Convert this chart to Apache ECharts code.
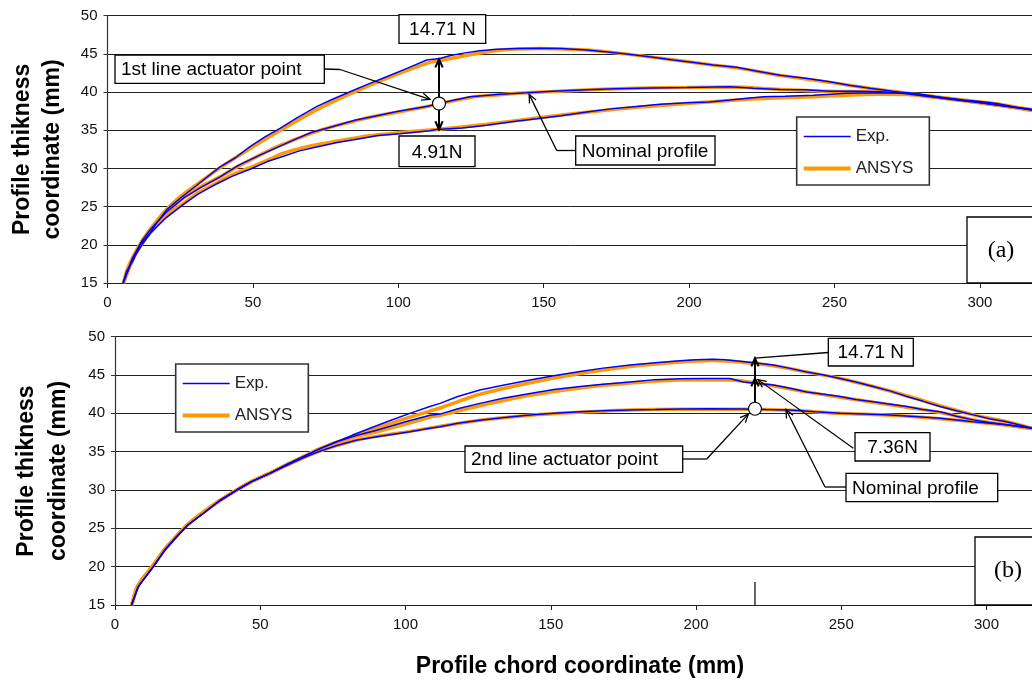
<!DOCTYPE html>
<html>
<head>
<meta charset="utf-8">
<script src="https://cdn.jsdelivr.net/npm/echarts@6/dist/echarts.min.js"></script>
<style>html,body{margin:0;padding:0;background:#fff}#c{width:1032px;height:680px}</style>
</head>
<body>
<div id="c"></div>
<script>
// ---------- DATA (chord x [mm], thickness y [mm]) ----------
// Panel (a): 1st line actuator
const aNominalAnsys = [[5.5,15],[9,18.4],[12,20.4],[15,22.0],[20,24.0],[26,26.1],[32,27.6],[38.7,28.9],[45,30.3],[52.4,31.75],[58,32.8],[63.9,33.7],[70,34.6],[77.6,35.5],[85,36.2],[91.4,36.8],[100,37.4],[109.8,38.1],[113.8,38.45],[124.7,39.3],[135,39.65],[144.2,39.9],[162.5,40.25],[182,40.5],[199.2,40.6],[214,40.65],[231.3,40.35],[248.4,40.1],[265.7,40.0],[282.8,39.4],[300,38.6],[318,37.7]];
const aNominalExp = [[5.4,15],[8.5,18.2],[12,20.6],[15,22.1],[20,24.2],[26.1,26.1],[32,27.5],[38.7,28.9],[45,30.4],[52.4,31.75],[58,32.7],[63.9,33.7],[70,34.7],[77.6,35.5],[85,36.3],[91.4,36.8],[100,37.5],[109.8,38.1],[113.8,38.5],[124.7,39.4],[135,39.7],[144.2,39.9],[153,40.1],[162.5,40.27],[172,40.4],[182,40.5],[199.2,40.6],[214,40.7],[222,40.5],[231.3,40.35],[240,40.3],[248.4,40.1],[257,40.1],[265.7,40.05],[274,39.8],[282.8,39.4],[291,39.0],[300,38.6],[308,38.2],[318,37.75]];
const a1471Ansys = [[5.5,15],[7,17],[9,18.6],[12,20.6],[15,22.2],[20,24.5],[25,26.3],[30,27.7],[38,29.9],[49,32.6],[59,34.9],[72,37.7],[83,39.7],[96,41.8],[110,43.8],[114,44.1],[122,44.7],[134,45.45],[149,45.7],[165,45.5],[178,45.0],[195,44.2],[208,43.55],[216,43.2],[231,42.2],[248,41.3],[262,40.5],[276,39.8],[294,38.95],[306,38.45],[318,37.6]];
const a1471Exp = [[5.4,15],[6.5,16.5],[8.9,18.0],[11,19.9],[14.6,21.5],[17,22.9],[20.4,24.6],[25,26.1],[30.7,27.8],[38.7,30.2],[44,31.4],[49,32.85],[54,34.1],[59.3,35.25],[65,36.6],[71.9,38.1],[77,39.0],[83.4,40.05],[90,41.1],[96,42.0],[103,43.1],[109.8,44.2],[114.3,44.4],[118,44.8],[122.4,45.1],[128,45.4],[133.8,45.6],[141,45.7],[148.7,45.75],[156,45.7],[164.8,45.5],[172,45.25],[178.5,45.0],[187,44.6],[194.6,44.2],[201,43.9],[208.3,43.55],[216.4,43.25],[223,42.75],[231.3,42.2],[240,41.8],[248.4,41.35],[255,40.9],[262.2,40.5],[270,40.1],[276,39.85],[285,39.4],[294.3,38.96],[300,38.75],[305.8,38.5],[312,38.05],[318,37.65]];
const a491Ansys = [[5.5,15],[9,18.3],[12,20.2],[15,21.8],[20,23.7],[26.1,25.4],[31,26.8],[37.6,28.1],[43,29.2],[49,30.1],[55,31.1],[60.5,32.0],[66,32.6],[71.9,33.1],[79,33.6],[86.8,34.1],[93,34.4],[100.6,34.7],[110.9,35.05],[113.2,35.1],[130.4,35.8],[147.6,36.6],[164.8,37.35],[182,38.0],[199.2,38.5],[216.4,38.95],[225.5,39.15],[242.7,39.4],[254.2,39.6],[265.7,39.7],[277.1,39.65],[288.6,39.2],[305.8,38.3],[318,37.6]];
const a491Exp = [[5.4,15],[8.5,18.0],[12,20.1],[15,21.6],[20,23.5],[26.1,25.3],[31,26.6],[37.6,28.0],[43,29.0],[49,29.9],[55,30.9],[60.5,31.6],[66,32.3],[71.9,32.8],[79,33.4],[86.8,33.9],[93,34.3],[100.6,34.55],[110.9,34.95],[113.2,35.1],[122,35.3],[130.4,35.65],[139,36.1],[147.6,36.5],[156,36.9],[164.8,37.4],[173,37.8],[182,38.1],[190,38.4],[199.2,38.6],[207,38.7],[214,38.95],[225.5,39.4],[233,39.45],[242.7,39.6],[254.2,39.85],[265.7,39.9],[277.1,39.85],[288.6,39.2],[297,38.8],[305.8,38.3],[318,37.65]];

// Panel (b): 2nd line actuator
const bNominalAnsys = [[5.8,15],[8,17.6],[13.2,20.2],[17,22.2],[21.2,24.0],[25,25.5],[30.4,27.1],[36,28.6],[41.9,30.0],[47,31.1],[53.4,32.2],[59,33.2],[64.8,34.2],[70,35.0],[76.3,35.8],[83,36.5],[90.1,37.0],[101.5,37.65],[111.9,38.3],[125.6,39.1],[142.9,39.75],[160.1,40.15],[177.3,40.45],[194.5,40.55],[216.3,40.55],[232.4,40.4],[249.6,40.0],[266.8,39.75],[284,39.3],[295.5,38.9],[306.9,38.45],[316,38.0]];
const bNominalExp = [[5.7,15],[8,17.4],[13.2,20.0],[17,22.1],[21.2,23.9],[25,25.4],[30.4,26.97],[36,28.6],[41.9,30.0],[47,31.1],[53.4,32.2],[59,33.2],[64.8,34.2],[70,35.0],[76.3,35.8],[83,36.5],[90.1,36.95],[101.5,37.6],[108.4,38.05],[111.9,38.26],[118,38.7],[125.6,39.1],[134,39.45],[142.9,39.8],[151,40.0],[160.1,40.2],[168,40.35],[177.3,40.45],[186,40.5],[194.5,40.57],[205,40.6],[216.3,40.57],[224,40.5],[232.4,40.45],[241,40.2],[249.6,40.0],[258,39.9],[266.8,39.8],[275,39.6],[284,39.35],[295.5,38.9],[306.9,38.5],[316,38.05]];
const b736Ansys = [[5.8,15],[8,17.6],[13.2,20.2],[17,22.2],[21.2,24.0],[25,25.5],[30.4,27.1],[36,28.6],[41.9,30.0],[47,31.1],[53.4,32.2],[59,33.3],[64.8,34.35],[70,35.3],[76.3,36.2],[83,37.0],[90.1,37.6],[100,38.6],[108.4,39.5],[111.9,39.75],[125.6,41.0],[142.9,42.35],[160.1,43.3],[177.3,43.95],[194.5,44.35],[211.7,44.35],[220,44.0],[226.6,43.6],[238.1,42.8],[249.6,42.1],[261,41.45],[272.5,40.8],[284,40.1],[295.5,39.15],[306.9,38.5],[316,38.0]];
const b736Exp = [[5.7,15],[8,17.4],[13.2,20.0],[17,22.1],[21.2,23.9],[25,25.4],[30.4,26.97],[36,28.6],[41.9,30.0],[47,31.1],[53.4,32.2],[59,33.3],[64.8,34.35],[70,35.3],[76.3,36.3],[83,37.1],[90.1,37.8],[100,38.9],[108.4,39.75],[111.9,39.9],[118,40.6],[125.6,41.3],[134,42.0],[142.9,42.6],[151,43.1],[160.1,43.5],[168,43.8],[177.3,44.1],[186,44.4],[194.5,44.5],[203,44.55],[211.7,44.55],[216.3,44.1],[226.6,43.7],[232,43.3],[238.1,42.8],[244,42.5],[249.6,42.2],[255,41.8],[261,41.5],[267,41.2],[272.5,40.9],[278,40.5],[284,40.2],[290,39.6],[295.5,39.15],[301,38.8],[306.9,38.5],[316,38.05]];
const b1471Ansys = [[5.8,15],[8,17.6],[13.2,20.2],[17,22.2],[21.2,24.0],[25,25.5],[30.4,27.1],[36,28.6],[41.9,30.0],[47,31.1],[53.4,32.2],[59,33.3],[64.8,34.35],[70,35.3],[76.3,36.2],[82,37.0],[87.8,37.75],[95,38.7],[101.5,39.5],[108.4,40.3],[111.9,40.7],[125.6,42.5],[142.9,44.0],[160.1,45.2],[177.3,46.1],[194.5,46.7],[206,46.9],[215.1,46.7],[226.6,46.2],[238.1,45.4],[249.6,44.55],[261,43.5],[272.5,42.3],[284,41.0],[295.5,39.8],[306.9,38.9],[316,38.0]];
const b1471Exp = [[5.7,15],[8,17.4],[13.2,20.0],[17,22.1],[21.2,23.9],[25,25.4],[30.4,26.97],[36,28.6],[41.9,30.0],[47,31.1],[53.4,32.2],[59,33.3],[64.8,34.35],[70,35.3],[76.3,36.3],[82,37.2],[87.8,38.05],[95,39.1],[101.5,40.0],[108.4,40.9],[111.9,41.3],[118,42.2],[125.6,43.05],[134,43.7],[142.9,44.35],[151,44.9],[160.1,45.45],[168,45.9],[177.3,46.3],[186,46.6],[194.5,46.87],[200,47.0],[206,47.05],[210,47.0],[215.1,46.8],[220,46.6],[226.6,46.3],[232,45.9],[238.1,45.4],[244,45.0],[249.6,44.55],[255,44.1],[261,43.5],[267,42.9],[272.5,42.2],[278,41.6],[284,40.9],[290,40.3],[295.5,39.8],[301,39.3],[306.9,38.9],[316,38.05]];

// axis ticks
const xTicks = {min: 0, max: 350, interval: 50};
const yTicks = {min: 15, max: 50, interval: 5};
const legendNames = ['Exp.', 'ANSYS'];

// annotation anchors (data coordinates)
const aActuator = [114, 38.5];
const aUpperTip = [114, 44.3];
const aLowerTip = [114, 35.1];
const aActuatorLeaderTip = [110.9, 39.05];
const aNominalTip = [145, 39.7];
const bActuator = [220.3, 40.6];
const bMidTip = [220.3, 44.6];
const bUpperTip = [220.3, 47.2];
const b736Tip = [221.3, 44.4];
const bNominalTip = [231, 40.5];
const bActuatorLeaderTip = [218, 39.9];
const bMarker = [220.3, 18.0];

// ---------- CHART ----------
const FONT = 'Arial, "Liberation Sans", sans-serif';
const chart = echarts.init(document.getElementById('c'), null, {renderer: 'canvas'});

function xAxis(gi) {
  return {
    type: 'value', gridIndex: gi, min: xTicks.min, max: xTicks.max, interval: xTicks.interval,
    axisLine: {show: true, lineStyle: {color: '#222', width: 1}},
    axisTick: {show: true, inside: false, length: 5, lineStyle: {color: '#222'}},
    axisLabel: {fontSize: 15, color: '#111', fontFamily: FONT, margin: 12},
    splitLine: {show: false}
  };
}
function yAxis(gi) {
  return {
    type: 'value', gridIndex: gi, min: yTicks.min, max: yTicks.max, interval: yTicks.interval,
    axisLine: {show: true, lineStyle: {color: '#333', width: 1.2}},
    axisTick: {show: true, inside: false, length: 4, lineStyle: {color: '#333'}},
    axisLabel: {fontSize: 15, color: '#111', fontFamily: FONT, margin: 10},
    splitLine: {show: true, lineStyle: {color: '#222', width: 1}}
  };
}
function ansys(data, gi) {
  return {type: 'line', name: 'ANSYS', xAxisIndex: gi, yAxisIndex: gi, data: data, symbol: 'none',
    smooth: 0.3, lineStyle: {color: '#FF9900', width: 3.5}, itemStyle: {color: '#FF9900'}, z: 2};
}
function exp(data, gi) {
  return {type: 'line', name: 'Exp.', xAxisIndex: gi, yAxisIndex: gi, data: data, symbol: 'none',
    lineStyle: {color: '#0000FF', width: 1.5}, itemStyle: {color: '#0000FF'}, z: 3};
}
function legend(left, top) {
  return {
    show: true, orient: 'vertical', left: left, top: top,
    data: [
      {name: legendNames[0], lineStyle: {width: 1.5}},
      {name: legendNames[1], lineStyle: {width: 4}}
    ],
    itemWidth: 47, itemHeight: 14, itemGap: 15, padding: [11, 16, 8, 5],
    itemStyle: {opacity: 0},
    borderColor: '#333', borderWidth: 1.6, backgroundColor: '#fff',
    textStyle: {fontSize: 17, fontFamily: FONT, color: '#222'}, selectedMode: false
  };
}

chart.setOption({
  animation: false,
  backgroundColor: '#fff',
  grid: [
    {left: 107.5, top: 15.7, width: 350 * 2.908, height: 267.3, outerBoundsMode: 'none', containLabel: false},
    {left: 115, top: 336.7, width: 350 * 2.905, height: 268.3, outerBoundsMode: 'none', containLabel: false}
  ],
  xAxis: [xAxis(0), xAxis(1)],
  yAxis: [yAxis(0), yAxis(1)],
  legend: [legend(796.7, 117), legend(175.7, 364)],
  series: [
    ansys(aNominalAnsys, 0), ansys(a1471Ansys, 0), ansys(a491Ansys, 0),
    ansys(bNominalAnsys, 1), ansys(b736Ansys, 1), ansys(b1471Ansys, 1),
    exp(aNominalExp, 0), exp(a1471Exp, 0), exp(a491Exp, 0),
    exp(bNominalExp, 1), exp(b736Exp, 1), exp(b1471Exp, 1)
  ]
});

// ---------- ANNOTATIONS ----------
function px(gi, p) { return chart.convertToPixel({xAxisIndex: gi, yAxisIndex: gi}, p); }
const G = [];
const Z = 50;
function line(pts, w) {
  G.push({type: 'polyline', z: Z, shape: {points: pts}, style: {stroke: '#000', lineWidth: w || 1.3, fill: null}});
}
function arrow(from, tip, w) {
  line([from, tip], w);
  const dx = tip[0] - from[0], dy = tip[1] - from[1];
  const L = Math.sqrt(dx * dx + dy * dy) || 1;
  const ux = dx / L, uy = dy / L, len = 9, a = 0.42;
  const c = Math.cos(a), s = Math.sin(a);
  const p1 = [tip[0] - len * (ux * c - uy * s), tip[1] - len * (uy * c + ux * s)];
  const p2 = [tip[0] - len * (ux * c + uy * s), tip[1] - len * (uy * c - ux * s)];
  line([p1, tip, p2], w);
}
function box(x, y, w, h, text, align) {
  G.push({type: 'rect', z: Z, shape: {x: x, y: y, width: w, height: h}, style: {fill: '#fff', stroke: '#000', lineWidth: 1.3}});
  G.push({type: 'text', z: Z + 1, x: align === 'left' ? x + 6 : x + w / 2, y: y + h / 2 + 1,
    style: {text: text, font: '19px ' + FONT, fill: '#000', textAlign: align === 'left' ? 'left' : 'center', textVerticalAlign: 'middle'}});
}
function circle(p) {
  G.push({type: 'circle', z: Z + 2, shape: {cx: p[0], cy: p[1], r: 6.5}, style: {fill: '#fff', stroke: '#000', lineWidth: 1.2}});
}

// panel (a)
const aC = px(0, aActuator), aU = px(0, aUpperTip), aL = px(0, aLowerTip);
arrow(aC, aU, 2); arrow(aC, aL, 2);
arrow([340, 69.5], px(0, aActuatorLeaderTip), 1.3); line([[324.3, 69], [340, 69.5]]);
circle(aC);
box(399, 14.7, 86.7, 28.6, '14.71 N');
box(115, 55, 209.3, 28.3, '1st line actuator point', 'left');
box(399, 136, 76, 30.7, '4.91N');
line([[575.7, 150.5], [556.7, 150.5]]);
arrow([556.7, 150.5], px(0, aNominalTip), 1.3);
box(575.7, 136, 139.3, 29, 'Nominal profile', 'left');
G.push({type: 'rect', z: Z, shape: {x: 967, y: 217, width: 80, height: 66}, style: {fill: '#fff', stroke: '#000', lineWidth: 1.3}});
G.push({type: 'text', z: Z + 1, x: 1001, y: 251, style: {text: '(a)', font: '24px "Times New Roman", "Liberation Serif", serif', fill: '#000', textAlign: 'center', textVerticalAlign: 'middle'}});

// panel (b)
const bC = px(1, bActuator), bM = px(1, bMidTip), bU = px(1, bUpperTip);
arrow(bC, bM, 2); arrow(bM, bU, 2);
line([[828.3, 352.5], bU]);
arrow([853.3, 448.3], px(1, b736Tip), 1.2);
line([[846, 487], [825, 487]]);
arrow([825, 487], px(1, bNominalTip), 1.3);
line([[682.7, 459], [706.7, 459]]);
arrow([706.7, 459], px(1, bActuatorLeaderTip), 1.3);
circle(bC);
const mk = px(1, bMarker), mk0 = px(1, [bMarker[0], yTicks.min]);
line([mk, mk0], 1.2);
box(828.3, 338.3, 85, 27.7, '14.71 N');
box(855, 432.7, 75, 28.3, '7.36N');
box(846, 473.3, 151.7, 28.4, 'Nominal profile', 'left');
box(465, 446, 217.7, 26.3, '2nd line actuator point', 'left');
G.push({type: 'rect', z: Z, shape: {x: 975, y: 537, width: 80, height: 68}, style: {fill: '#fff', stroke: '#000', lineWidth: 1.3}});
G.push({type: 'text', z: Z + 1, x: 1008, y: 571, style: {text: '(b)', font: '24px "Times New Roman", "Liberation Serif", serif', fill: '#000', textAlign: 'center', textVerticalAlign: 'middle'}});

// axis titles
const titleFont = 'bold 23px ' + FONT;
G.push({type: 'text', z: Z, x: 38, y: 149.4, rotation: Math.PI / 2,
  style: {text: 'Profile thikness\ncoordinate (mm)', font: titleFont, lineHeight: 30, fill: '#000', textAlign: 'center', textVerticalAlign: 'middle'}});
G.push({type: 'text', z: Z, x: 43, y: 471, rotation: Math.PI / 2,
  style: {text: 'Profile thikness\ncoordinate (mm)', font: titleFont, lineHeight: 32, fill: '#000', textAlign: 'center', textVerticalAlign: 'middle'}});
G.push({type: 'text', z: Z, x: 580, y: 667,
  style: {text: 'Profile chord coordinate (mm)', font: titleFont, fill: '#000', textAlign: 'center', textVerticalAlign: 'middle'}});

chart.setOption({graphic: G});
</script>
</body>
</html>
